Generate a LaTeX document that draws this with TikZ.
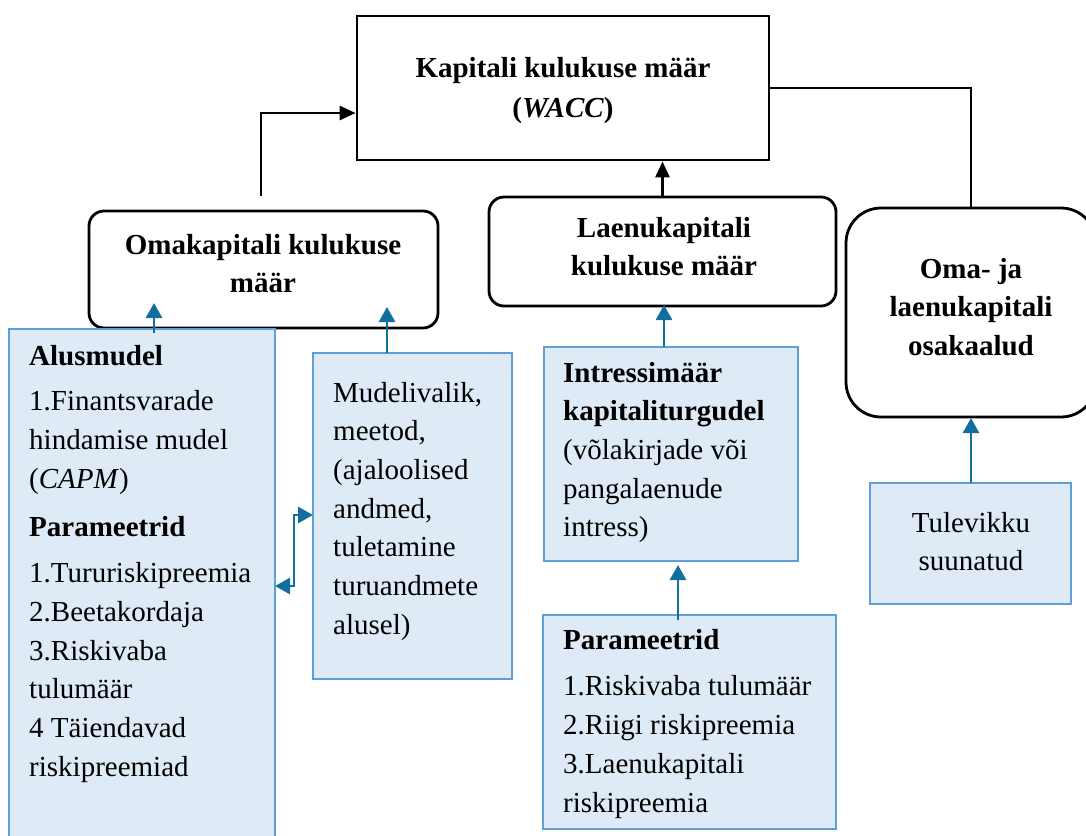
\documentclass[tikz,border=0pt]{standalone}
\usepackage{fontspec}
\setmainfont{Liberation Serif}
\usetikzlibrary{arrows.meta}
\definecolor{boxfill}{RGB}{222,234,246}
\definecolor{boxedge}{RGB}{96,158,216}
\definecolor{arrowblue}{RGB}{18,110,156}
\newcommand\fsz{\fontsize{29}{38.7}\selectfont}
\tikzset{
  blackbox/.style={draw=black, line width=2.8pt, fill=white, inner sep=0pt},
  roundbox/.style={blackbox, rounded corners=15pt},
  bluebox/.style={draw=boxedge, line width=2.2pt, fill=boxfill, inner sep=0pt},
  ltxt/.style={inner sep=0pt, align=left, anchor=north west, font=\fsz},
  ctxt/.style={inner sep=0pt, align=center, anchor=north, font=\fsz},
  blk/.style={line width=2.8pt, draw=black},
  blkarrow/.style={blk, -{Triangle[length=16pt,width=14pt]}},
  barrow/.style={line width=2.7pt, draw=arrowblue, -{Triangle[length=15pt,width=16pt]}},
  bdarrow/.style={line width=2.7pt, draw=arrowblue, {Triangle[length=15pt,width=16pt]}-{Triangle[length=15pt,width=16pt]}},
}
\begin{document}
\begin{tikzpicture}[x=1pt,y=-1pt]
\useasboundingbox (0,0) rectangle (1086,835);
% boxes
\node[blackbox, minimum width=412pt, minimum height=144pt] (wacc) at (563,88) {};
\node[roundbox, minimum width=349pt, minimum height=117pt] (omak) at (263.5,269.5) {};
\node[roundbox, minimum width=347pt, minimum height=109pt] (laen) at (662.5,251.5) {};
\node[roundbox, rounded corners=35pt, minimum width=250pt, minimum height=209pt] (omaja) at (971,312.5) {};
\node[bluebox, minimum width=266pt, minimum height=522pt] (alus) at (142,590) {};
\node[bluebox, minimum width=199pt, minimum height=326pt] (mudel) at (412.5,516) {};
\node[bluebox, minimum width=254pt, minimum height=214pt] (intr) at (671,454) {};
\node[bluebox, minimum width=293pt, minimum height=214pt] (param) at (689.5,722) {};
\node[bluebox, minimum width=201pt, minimum height=121pt] (tulev) at (970.5,543.5) {};
% coordinates for connector ends
\coordinate (c1) at (261,196);
\coordinate (a1s) at (154,333);
\coordinate (a1e) at (154,303);
\coordinate (a2s) at (387,353);
\coordinate (a2e) at (387,307);
\coordinate (d1) at (275,586);
\coordinate (d2) at (294,586);
\coordinate (d3) at (294,515);
\coordinate (d4) at (313,515);
\coordinate (a3s) at (664,347);
\coordinate (a3e) at (664,305);
\coordinate (a4s) at (678,620);
\coordinate (a4e) at (678,565);
\coordinate (a5s) at (971,483);
\coordinate (a5e) at (971,418);
% black connectors
\draw[blkarrow] (c1) |- (wacc.west |- 0,113);
\draw[blkarrow] (laen.north) -- (laen.north |- wacc.south);
\draw[blk] (wacc.east) -| (omaja.north);
% blue connectors
\draw[barrow] (a1s) -- (a1e);
\draw[barrow] (a2s) -- (a2e);
\draw[bdarrow] (d1) -- (d2) -- (d3) -- (d4);
\draw[barrow] (a3s) -- (a3e);
\draw[barrow] (a4s) -- (a4e);
\draw[barrow] (a5s) -- (a5e);
% texts
\node[ctxt] (waccT) at (563,49.9) {\strut\textbf{Kapitali kulukuse määr}\\[1.5pt]\textbf{(\textit{WACC})}};
\node[ctxt] (omakT) at (263,226.9) {\strut\textbf{Omakapitali kulukuse}\\\textbf{määr}};
\node[ctxt] (laenT) at (664,209.9) {\strut\textbf{Laenukapitali}\\\textbf{kulukuse määr}};
\node[ctxt] (omajaT) at (971,250.9) {\strut\textbf{Oma- ja}\\\textbf{laenukapitali}\\\textbf{osakaalud}};
\node[ctxt] (tulevT) at (971,504.9) {\strut Tulevikku\\suunatud};
\node[ltxt] (alusT) at (29,337.9) {\strut\textbf{Alusmudel}\\[7pt]
1.Finantsvarade\\hindamise mudel\\(\textit{CAPM})\\[9pt]
\textbf{Parameetrid}\\[8pt]
1.Tururiskipreemia\\2.Beetakordaja\\3.Riskivaba\\tulumäär\\4 Täiendavad\\riskipreemiad};
\node[ltxt] (mudelT) at (333,374.9) {\strut Mudelivalik,\\meetod,\\(ajaloolised\\andmed,\\tuletamine\\turuandmete\\alusel)};
\node[ltxt] (intrT) at (563,354.9) {\strut\textbf{Intressimäär}\\\textbf{kapitaliturgudel}\\(võlakirjade või\\pangalaenude\\intress)};
\node[ltxt] (paramT) at (563,621.9) {\strut\textbf{Parameetrid}\\[8pt]1.Riskivaba tulumäär\\2.Riigi riskipreemia\\3.Laenukapitali\\riskipreemia};
\end{tikzpicture}
\end{document}
